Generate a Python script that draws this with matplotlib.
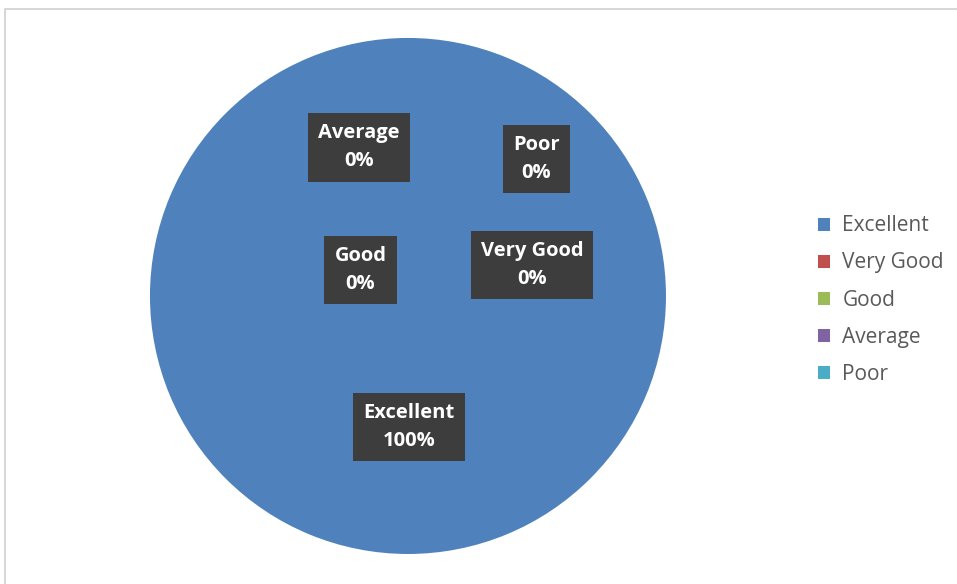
import matplotlib.pyplot as plt
from matplotlib.patches import Rectangle, Patch

# survey ratings
categories = ["Excellent", "Very Good", "Good", "Average", "Poor"]
shares = [100, 0, 0, 0, 0]
colors = ["#4F81BD", "#C0504D", "#9BBB59", "#8064A2", "#4BACC6"]

# where the data labels sit (in pie radius units)
label_pos = [(0.004, -0.508), (0.481, 0.12), (-0.184, 0.101),
             (-0.19, 0.576), (0.498, 0.531)]

plt.rcParams['font.family'] = ['Open Sans', 'DejaVu Sans']

fig = plt.figure(figsize=(9.57, 5.84), dpi=100)
fig.patches.append(Rectangle((5 / 957, -0.01), 1.0, 1 - 9 / 584 + 0.01,
                             transform=fig.transFigure, fill=False,
                             edgecolor="#d0d0d0", linewidth=1.2))

ax = fig.add_axes([0.1567, 0.0514, 0.5392, 0.8836])
wedges, _ = ax.pie(shares, colors=colors, startangle=90, counterclock=False,
                   radius=1.0)
ax.set_xlim(-1, 1)
ax.set_ylim(-1, 1)
ax.set_aspect("auto")

for cat, val, (x, y) in zip(categories, shares, label_pos):
    ax.text(x, y, f"{cat}\n{val}%", ha="center", va="center",
            color="white", fontsize=14.5, fontweight="bold", linespacing=1.55,
            bbox=dict(boxstyle="square,pad=0.5", facecolor="#3d3d3d",
                      edgecolor="none"))

handles = [Patch(facecolor=c, edgecolor="none") for c in colors]
fig.legend(handles, categories, loc="center left",
           bbox_to_anchor=(799 / 957, 1 - 300 / 584), frameon=False,
           fontsize=15, labelcolor="#595959", handlelength=0.58,
           handleheight=0.58, handletextpad=0.6, labelspacing=0.77)

fig.savefig("out.png", dpi=100)
